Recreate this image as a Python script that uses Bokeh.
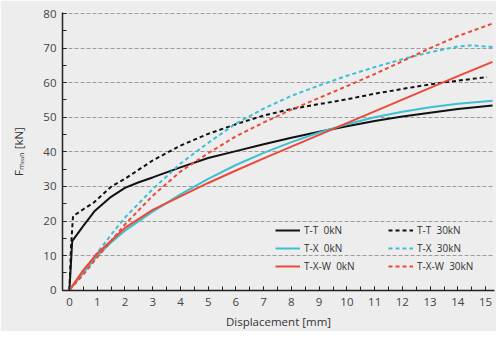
from bokeh.plotting import figure
from bokeh.models import SingleIntervalTicker, Legend, LegendItem, Range1d
from bokeh.embed import file_html
from bokeh.resources import INLINE

# ---- data ----
disp_tt0 = [0, 0.1, 0.5, 0.9, 1.5, 2, 2.5, 3, 4, 5, 6, 7, 8, 9, 10, 11, 12, 13, 14, 15.25]
force_tt0 = [0, 14.2, 18.6, 22.8, 27.0, 29.6, 31.2, 32.6, 35.5, 38.2, 40.2, 42.2, 44.1, 45.8, 47.4, 48.9, 50.2, 51.3, 52.4, 53.4]

disp_tt30 = [0, 0.06, 0.13, 0.5, 0.87, 1.5, 2, 3, 4, 5, 6, 7, 8, 9, 10, 11, 12, 13, 14, 15.05]
force_tt30 = [0, 13.0, 21.4, 23.4, 25.3, 29.9, 32.2, 37.5, 41.8, 45.2, 48.0, 50.5, 52.4, 53.8, 55.2, 56.8, 58.2, 59.5, 60.6, 61.6]

disp_tx0 = [0, 0.5, 1, 1.5, 2, 3, 4, 5, 6, 7, 8, 9, 10, 11, 12, 13, 14, 15.25]
force_tx0 = [0, 5.0, 9.9, 13.8, 17.2, 22.7, 27.7, 32.2, 36.2, 39.7, 42.8, 45.6, 48.0, 50.0, 51.6, 52.9, 53.9, 54.8]

disp_tx30 = [0, 0.5, 1, 1.5, 2, 3, 4, 5, 6, 7, 8, 9, 10, 11, 12, 13, 14, 14.5, 15.25]
force_tx30 = [0, 5.5, 10.8, 16.0, 21.0, 29.2, 36.6, 42.6, 48.2, 52.5, 56.2, 59.2, 62.0, 64.5, 66.8, 68.8, 70.5, 70.8, 70.3]

disp_txw0 = [0, 0.5, 1, 2, 3, 4, 5, 6, 7, 8, 9, 10, 11, 12, 13, 14, 15.25]
force_txw0 = [0, 5.8, 10.6, 18.0, 23.2, 27.1, 31.0, 34.6, 38.1, 41.5, 44.9, 48.3, 51.7, 55.1, 58.5, 61.9, 66.0]

disp_txw30 = [0, 0.5, 1, 2, 3, 4, 5, 6, 7, 8, 9, 10, 11, 12, 13, 14, 15.25]
force_txw30 = [0, 4.5, 9.5, 19.0, 27.3, 34.3, 39.6, 44.5, 48.5, 52.2, 55.6, 59.0, 62.5, 66.2, 70.0, 73.5, 77.1]

labels = ["T-T  0kN", "T-T  30kN", "T-X  0kN", "T-X  30kN", "T-X-W  0kN", "T-X-W  30kN"]

BLACK = "#111111"
CYAN = "#3dbfd4"
RED = "#ec4a38"
BG = "#ededed"
FONT = "Open Sans"

p = figure(width=496, height=331, output_backend="svg", toolbar_location=None,
           x_range=Range1d(-0.25, 15.32), y_range=Range1d(-0.1, 80.3),
           background_fill_color=BG, border_fill_color=BG,
           min_border_left=62, min_border_right=2, min_border_top=12, min_border_bottom=37)
p.outline_line_color = None

series = [
    (disp_tt0, force_tt0, BLACK, "solid"),
    (disp_tt30, force_tt30, BLACK, "4 3"),
    (disp_tx0, force_tx0, CYAN, "solid"),
    (disp_tx30, force_tx30, CYAN, "4 3"),
    (disp_txw0, force_txw0, RED, "solid"),
    (disp_txw30, force_txw30, RED, "4 3"),
]
renderers = []
for xs, ys, c, d in series:
    r = p.line(xs, ys, line_color=c, line_width=2, line_dash=d)
    renderers.append(r)

# axes
p.xaxis.ticker = SingleIntervalTicker(interval=1, num_minor_ticks=2)
p.yaxis.ticker = SingleIntervalTicker(interval=10, num_minor_ticks=2)
for ax in (p.xaxis, p.yaxis):
    ax.axis_line_color = "#222222"
    ax.axis_line_width = 1.5
    ax.major_tick_in = 4
    ax.major_tick_out = 0
    ax.minor_tick_in = 4
    ax.minor_tick_out = 0
    ax.major_tick_line_color = "#222222"
    ax.minor_tick_line_color = "#222222"
    ax.major_label_text_font = FONT
    ax.major_label_text_font_size = "11.5px"
    ax.major_label_text_color = "#444444"
    ax.axis_label_text_font = FONT
    ax.axis_label_text_font_size = "11.5px"
    ax.axis_label_text_font_style = "normal"
    ax.axis_label_text_color = "#333333"
p.xaxis.axis_label = "Displacement [mm]"
p.yaxis.axis_label = "F\u2098\u2091\u2090\u2099 [kN]"
p.xaxis.major_label_standoff = 7
p.xaxis.axis_label_standoff = 5
p.yaxis.major_label_standoff = 6
p.yaxis.axis_label_standoff = 14

p.xgrid.grid_line_color = None
p.ygrid.grid_line_color = "#9a9a9a"
p.ygrid.grid_line_dash = "4 2"
p.ygrid.grid_line_width = 1

# legend: two columns, filled column by column
order = [0, 2, 4, 1, 3, 5]
items = [LegendItem(label=labels[i], renderers=[renderers[i]]) for i in order]
legend = Legend(items=items, ncols=2, location=(213, 17),
                background_fill_alpha=0, border_line_color=None,
                padding=0, margin=0, spacing=4,
                glyph_width=25, glyph_height=14, label_height=14,
                label_standoff=4, label_width=80,
                label_text_font=FONT, label_text_font_size="10px",
                label_text_color="#333333")
p.add_layout(legend)

open("out.html", "w").write(file_html(p, INLINE))
